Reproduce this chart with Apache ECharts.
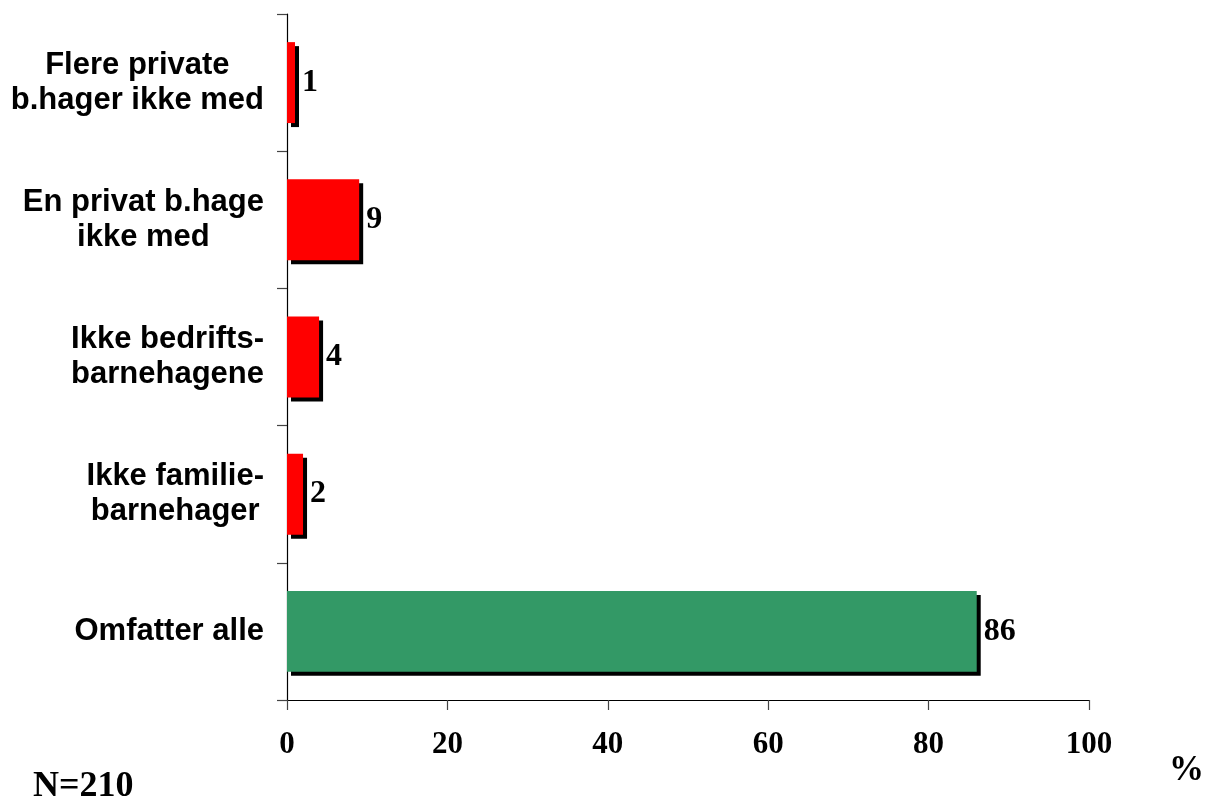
<!DOCTYPE html>
<html>
<head>
<meta charset="utf-8">
<style>
  html, body { margin: 0; padding: 0; background: #ffffff; }
  #chart { width: 1212px; height: 801px; }
</style>
<script src="https://cdn.jsdelivr.net/npm/echarts@6/dist/echarts.min.js"></script>
</head>
<body>
<div id="chart"></div>
<script>
// Categories from bottom to top
const categories = [
  "Omfatter alle",
  "Ikke familie-\nbarnehager",
  "Ikke bedrifts-\nbarnehagene",
  "En privat b.hage\nikke med",
  "Flere private\nb.hager ikke med"
];
const values = [86, 2, 4, 9, 1];
const barColors = ["#339966", "#ff0000", "#ff0000", "#ff0000", "#ff0000"];
const xTicks = [0, 20, 40, 60, 80, 100];
const noteText = "N=210";
const unitText = "%";

const chart = echarts.init(document.getElementById('chart'));

const seriesData = values.map((v, i) => ({
  value: v,
  itemStyle: { color: barColors[i] }
}));

chart.setOption({
  animation: false,
  backgroundColor: '#ffffff',
  grid: { left: 287, right: 123, top: 14, bottom: 101, containLabel: false },
  xAxis: {
    type: 'value',
    min: xTicks[0],
    max: xTicks[xTicks.length - 1],
    interval: 20,
    splitLine: { show: false },
    axisLine: { show: true, lineStyle: { color: '#000', width: 1.2 } },
    axisTick: { show: true, length: 10, lineStyle: { color: '#444', width: 1.2 } },
    axisLabel: {
      margin: 29,
      color: '#000',
      fontFamily: '"Liberation Serif", "Times New Roman", serif',
      fontWeight: 'bold',
      fontSize: 31
    }
  },
  yAxis: {
    type: 'category',
    data: categories,
    axisLine: { show: true, lineStyle: { color: '#000', width: 1.2 } },
    axisTick: { show: true, length: 10, alignWithLabel: false, lineStyle: { color: '#444', width: 1.2 } },
    axisLabel: {
      margin: 23,
      align: 'right',
      formatter: function (val) {
        return val.split('\n').map(s => '{c|' + s + '}').join('\n');
      },
      rich: {
        c: {
          align: 'center',
          color: '#000',
          fontFamily: '"Liberation Sans", Arial, sans-serif',
          fontWeight: 'bold',
          fontSize: 31,
          lineHeight: 35
        }
      }
    }
  },
  series: [{
    type: 'bar',
    data: seriesData,
    barWidth: '59%',
    itemStyle: {
      borderWidth: 0,
      shadowColor: '#000',
      shadowBlur: 0,
      shadowOffsetX: 4,
      shadowOffsetY: 4
    },
    label: {
      show: true,
      position: 'right',
      distance: 7,
      formatter: '{v|{c}}',
      rich: {
        v: {
          color: '#000',
          fontFamily: '"Liberation Serif", "Times New Roman", serif',
          fontWeight: 'bold',
          fontSize: 32
        }
      }
    }
  }],
  graphic: [
    {
      type: 'text',
      left: 33,
      top: 769,
      style: {
        text: noteText,
        fill: '#000',
        font: 'bold 36px "Liberation Serif", "Times New Roman", serif'
      }
    },
    {
      type: 'text',
      left: 1169,
      top: 753,
      style: {
        text: unitText,
        fill: '#000',
        font: 'bold 35px "Liberation Serif", "Times New Roman", serif'
      }
    }
  ]
});
</script>
</body>
</html>
